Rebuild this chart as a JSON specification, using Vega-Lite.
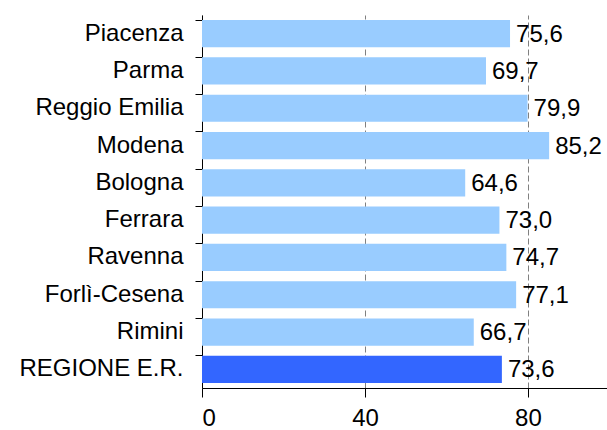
{
  "$schema": "https://vega.github.io/schema/vega-lite/v6.json",
  "width": 405,
  "height": 373,
  "autosize": {"type": "none"},
  "padding": {"left": 202, "top": 15, "right": 0, "bottom": 42},
  "background": "white",
  "config": {
    "view": {"stroke": null},
    "font": "Liberation Sans"
  },
  "data": {
    "values": [
      {"provincia": "Piacenza", "valore": 75.6, "etichetta": "75,6", "tipo": "prov"},
      {"provincia": "Parma", "valore": 69.7, "etichetta": "69,7", "tipo": "prov"},
      {"provincia": "Reggio Emilia", "valore": 79.9, "etichetta": "79,9", "tipo": "prov"},
      {"provincia": "Modena", "valore": 85.2, "etichetta": "85,2", "tipo": "prov"},
      {"provincia": "Bologna", "valore": 64.6, "etichetta": "64,6", "tipo": "prov"},
      {"provincia": "Ferrara", "valore": 73.0, "etichetta": "73,0", "tipo": "prov"},
      {"provincia": "Ravenna", "valore": 74.7, "etichetta": "74,7", "tipo": "prov"},
      {"provincia": "Forlì-Cesena", "valore": 77.1, "etichetta": "77,1", "tipo": "prov"},
      {"provincia": "Rimini", "valore": 66.7, "etichetta": "66,7", "tipo": "prov"},
      {"provincia": "REGIONE E.R.", "valore": 73.6, "etichetta": "73,6", "tipo": "reg"}
    ]
  },
  "encoding": {
    "y": {
      "field": "provincia",
      "type": "nominal",
      "sort": null,
      "scale": {"paddingInner": 0.27, "paddingOuter": 0.135},
      "axis": {
        "title": null,
        "bandPosition": 0,
        "domain": true,
        "domainColor": "#000000",
        "tickColor": "#000000",
        "tickSize": 7,
        "labelFontSize": 24,
        "labelColor": "#000000",
        "labelPadding": 12,
        "labelFont": "Liberation Sans",
        "grid": false
      }
    }
  },
  "layer": [
    {
      "mark": {"type": "bar", "clip": false},
      "encoding": {
        "x": {
          "field": "valore",
          "type": "quantitative",
          "scale": {"domain": [0, 99.4], "nice": false},
          "axis": {
            "title": null,
            "values": [0, 40, 80],
            "grid": true,
            "gridDash": [6, 3],
            "gridColor": "#808080",
            "gridWidth": 1,
            "domain": true,
            "domainWidth": 1,
            "domainColor": "#000000",
            "tickColor": "#000000",
            "tickSize": 9,
            "labelFontSize": 24,
            "labelColor": "#000000",
            "labelPadding": 9,
            "labelFont": "Liberation Sans"
          }
        },
        "color": {
          "field": "tipo",
          "type": "nominal",
          "scale": {"domain": ["prov", "reg"], "range": ["#99CCFF", "#3366FF"]},
          "legend": null
        }
      }
    },
    {
      "mark": {"type": "text", "align": "left", "baseline": "middle", "dx": 6, "dy": 1, "fontSize": 24, "color": "#000000", "font": "Liberation Sans"},
      "encoding": {
        "x": {"field": "valore", "type": "quantitative"},
        "text": {"field": "etichetta", "type": "nominal"}
      }
    }
  ]
}
